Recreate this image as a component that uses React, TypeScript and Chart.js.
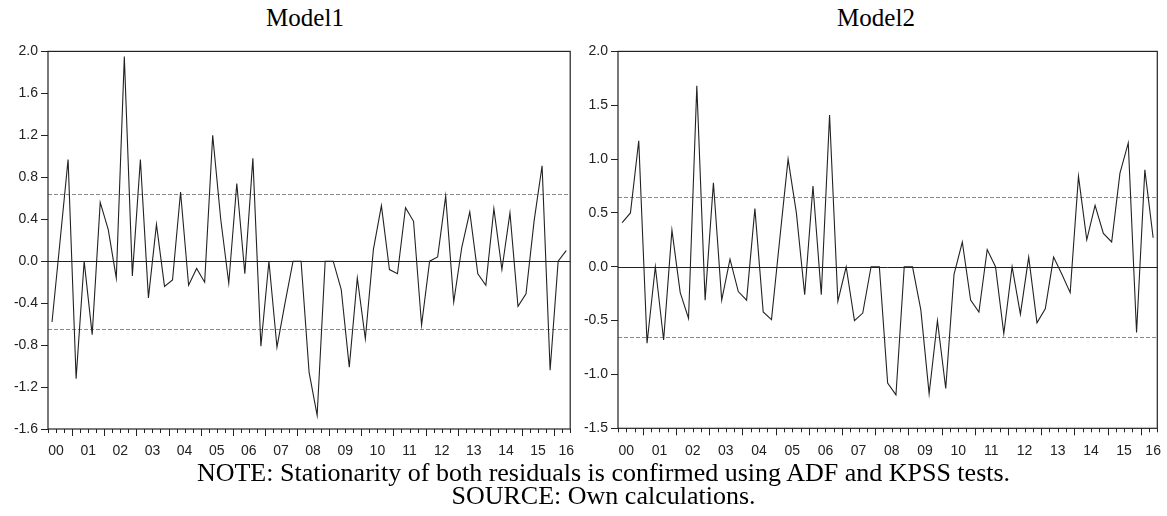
import React, { useEffect, useRef } from 'react';
import { Chart, registerables } from 'chart.js';

Chart.register(...registerables);

// Quarterly residuals, 2000Q2 .. 2016Q2
const YEAR_LABELS = ['00','01','02','03','04','05','06','07','08','09','10','11','12','13','14','15','16'];
const FIRST_YEAR = 2000;
const FIRST_QUARTER = 2;

const MODEL1 = [
  -0.58, 0.19, 0.97, -1.12, 0.0, -0.70, 0.56, 0.30, -0.16, 1.95,
  -0.14, 0.97, -0.35, 0.35, -0.24, -0.18, 0.66, -0.23, -0.07, -0.20,
  1.20, 0.40, -0.21, 0.74, -0.12, 0.98, -0.81, 0.0, -0.82, -0.40,
  0.0, 0.0, -1.06, -1.47, 0.0, 0.0, -0.27, -1.01, -0.16, -0.74,
  0.11, 0.53, -0.08, -0.12, 0.51, 0.38, -0.61, 0.0, 0.04, 0.62,
  -0.39, 0.13, 0.47, -0.12, -0.23, 0.50, -0.08, 0.46, -0.43, -0.31,
  0.38, 0.91, -1.04, 0.0, 0.10,
];

const MODEL2 = [
  0.41, 0.50, 1.17, -0.71, 0.0, -0.68, 0.34, -0.24, -0.48, 1.68,
  -0.31, 0.78, -0.31, 0.07, -0.23, -0.31, 0.54, -0.42, -0.49, 0.26,
  1.00, 0.50, -0.26, 0.75, -0.26, 1.41, -0.32, 0.0, -0.50, -0.43,
  0.0, 0.0, -1.08, -1.19, 0.0, 0.0, -0.40, -1.18, -0.50, -1.13,
  -0.07, 0.23, -0.31, -0.42, 0.16, 0.0, -0.62, 0.0, -0.44, 0.09,
  -0.52, -0.39, 0.09, -0.07, -0.24, 0.84, 0.25, 0.57, 0.31, 0.23,
  0.87, 1.15, -0.61, 0.90, 0.27,
];

const Y_TICKS_1 = [-1.6, -1.2, -0.8, -0.4, 0.0, 0.4, 0.8, 1.2, 1.6, 2.0];
const Y_TICKS_2 = [-1.5, -1.0, -0.5, 0.0, 0.5, 1.0, 1.5, 2.0];
const BAND_1 = 0.645;
const BAND_2 = 0.65;

const QUARTERS: string[] = MODEL1.map((_, i) => {
  const q = FIRST_QUARTER - 1 + i;
  return `${FIRST_YEAR + Math.floor(q / 4)}Q${(q % 4) + 1}`;
});

const INK = '#222';

function makePlugin(band: number) {
  return {
    id: 'eviewsFrame',
    beforeDatasetsDraw(chart: any) {
      const { ctx, chartArea: a, scales } = chart;
      const y = scales.y;
      ctx.save();
      ctx.lineWidth = 1;
      ctx.strokeStyle = '#8a8a8a';
      ctx.setLineDash([4, 2]);
      [band, -band].forEach((v) => {
        const py = Math.round(y.getPixelForValue(v)) + 0.5;
        ctx.beginPath();
        ctx.moveTo(a.left, py);
        ctx.lineTo(a.right, py);
        ctx.stroke();
      });
      ctx.setLineDash([]);
      ctx.strokeStyle = INK;
      const pz = Math.round(y.getPixelForValue(0)) + 0.5;
      ctx.beginPath();
      ctx.moveTo(a.left, pz);
      ctx.lineTo(a.right, pz);
      ctx.stroke();
      ctx.restore();
    },
    afterDraw(chart: any) {
      const { ctx, chartArea: a, scales } = chart;
      const x = scales.x;
      ctx.save();
      ctx.strokeStyle = INK;
      ctx.lineWidth = 1.2;
      ctx.strokeRect(a.left, a.top, a.right - a.left, a.bottom - a.top);
      ctx.lineWidth = 1;
      for (let i = 0; i <= QUARTERS.length; i++) {
        const q = FIRST_QUARTER - 1 + i;
        const isYear = q % 4 === 0;
        const px = Math.round(x.getPixelForValue(i - 0.5)) + 0.5;
        ctx.beginPath();
        ctx.moveTo(px, a.bottom);
        ctx.lineTo(px, a.bottom + (isYear ? 7 : 4));
        ctx.stroke();
      }
      ctx.restore();
    },
  };
}

function makeConfig(values: number[], yTicks: number[], band: number, yWidth: number, xHeight: number, padding: any) {
  const n = values.length;
  const offset = FIRST_QUARTER - 1;
  return {
    type: 'line',
    data: {
      datasets: [
        {
          data: values.map((v, i) => ({ x: i, y: v })),
          borderColor: INK,
          borderWidth: 1.1,
          pointRadius: 0,
          tension: 0,
          fill: false,
        },
      ],
    },
    options: {
      responsive: false,
      animation: false,
      devicePixelRatio: 1,
      layout: { padding },
      plugins: { legend: { display: false }, tooltip: { enabled: false }, title: { display: false } },
      scales: {
        x: {
          type: 'linear',
          min: -0.5,
          max: n - 0.5,
          border: { display: false },
          grid: { display: false },
          afterBuildTicks: (scale: any) => {
            scale.ticks = YEAR_LABELS.map((_, k) => ({ value: Math.min(k * 4 - offset + 1.5, n - 1) }));
          },
          afterFit: (scale: any) => {
            scale.height = xHeight;
          },
          ticks: {
            autoSkip: false,
            maxRotation: 0,
            padding: 6,
            color: INK,
            font: { family: '"Liberation Sans", Arial, sans-serif', size: 14 },
            callback: (_v: any, i: number) => YEAR_LABELS[i],
          },
        },
        y: {
          type: 'linear',
          min: yTicks[0],
          max: yTicks[yTicks.length - 1],
          border: { display: false },
          grid: { display: true, drawOnChartArea: false, drawTicks: true, tickLength: 7, color: INK, lineWidth: 1 },
          afterBuildTicks: (scale: any) => {
            scale.ticks = yTicks.map((v) => ({ value: v }));
          },
          afterFit: (scale: any) => {
            scale.width = yWidth;
          },
          ticks: {
            padding: 3,
            color: INK,
            font: { family: '"Liberation Sans", Arial, sans-serif', size: 14 },
            callback: (v: number) => Number(v).toFixed(1),
          },
        },
      },
    },
    plugins: [makePlugin(band)],
  };
}

function Panel(props: { left: number; top: number; width: number; height: number; cfg: any }) {
  const ref = useRef<HTMLCanvasElement | null>(null);
  useEffect(() => {
    if (!ref.current) return;
    const chart = new Chart(ref.current, props.cfg);
    return () => chart.destroy();
  }, []);
  return (
    <canvas
      ref={ref}
      width={props.width}
      height={props.height}
      style={{ position: 'absolute', left: props.left, top: props.top, width: props.width, height: props.height }}
    />
  );
}

const serif = '"Liberation Serif", "Times New Roman", serif';

export default function App() {
  const cfg1 = makeConfig(MODEL1, Y_TICKS_1, BAND_1, 48, 41, { top: 9.5, right: 3, left: 0, bottom: 0 });
  const cfg2 = makeConfig(MODEL2, Y_TICKS_2, BAND_2, 38, 41.7, { top: 10, right: 8.7, left: 0, bottom: 0 });
  const textStyle: React.CSSProperties = {
    position: 'absolute',
    fontFamily: serif,
    fontSize: 25,
    color: '#000',
    textAlign: 'center',
    whiteSpace: 'nowrap',
    lineHeight: '23px',
  };
  const noteStyle: React.CSSProperties = { ...textStyle, fontSize: 26 };
  return (
    <div style={{ position: 'absolute', left: 0, top: 0, width: 1167, height: 516, background: '#fff', overflow: 'hidden' }}>
      <div style={{ ...textStyle, left: 205, top: 6, width: 200 }}>Model1</div>
      <div style={{ ...textStyle, left: 776, top: 6, width: 200 }}>Model2</div>
      <Panel left={0} top={40} width={580} height={430} cfg={cfg1} />
      <Panel left={580} top={40} width={587} height={430} cfg={cfg2} />
      <div style={{ ...noteStyle, left: 0, top: 461, width: 1207 }}>
        NOTE: Stationarity of both residuals is confirmed using ADF and KPSS tests.
      </div>
      <div style={{ ...noteStyle, left: 0, top: 484, width: 1207 }}>SOURCE: Own calculations.</div>
    </div>
  );
}
